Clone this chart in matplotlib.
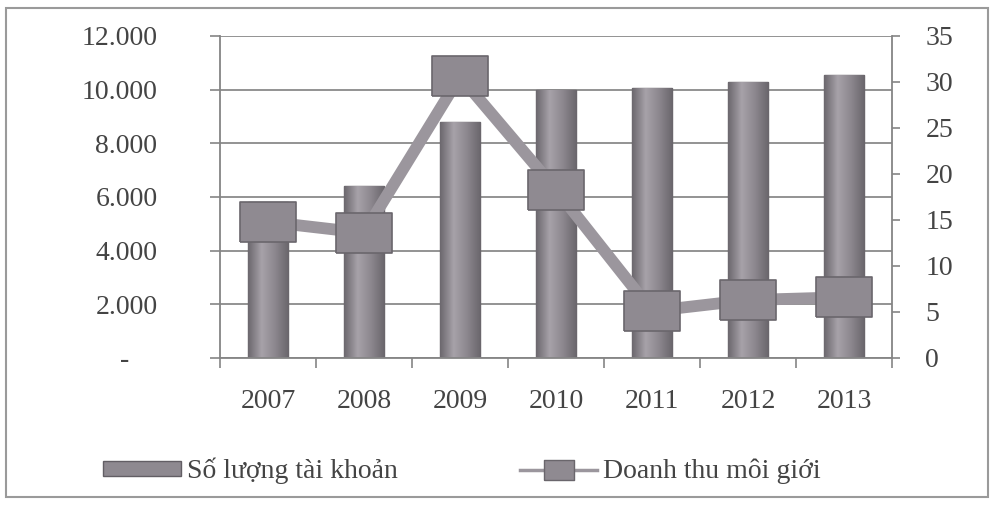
import matplotlib
matplotlib.use('Agg')
import matplotlib.pyplot as plt
import numpy as np
from matplotlib.lines import Line2D
from matplotlib.patches import Rectangle, Patch
from matplotlib.colors import LinearSegmentedColormap

# ---- data ----
years = ['2007', '2008', '2009', '2010', '2011', '2012', '2013']
so_luong_tai_khoan = [5800, 6400, 8800, 10000, 10050, 10300, 10550]
doanh_thu_moi_gioi = [14.8, 13.6, 30.6, 18.3, 5.1, 6.3, 6.6]
left_ticks = [0, 2000, 4000, 6000, 8000, 10000, 12000]
left_tick_labels = ['-    ', '2.000', '4.000', '6.000', '8.000', '10.000', '12.000']
right_ticks = [0, 5, 10, 15, 20, 25, 30, 35]
legend_labels = ['Số lượng tài khoản', 'Doanh thu môi giới']

plt.rcParams['font.family'] = ['Liberation Serif', 'DejaVu Serif']
txt_color = '#444444'
axis_color = '#858585'
bar_face = '#8e8990'
bar_edge = '#625e64'
line_color = '#9b969d'
mk_face = '#8f8a91'
mk_edge = '#6a666c'
FS = 20

fig = plt.figure(figsize=(9.93, 5.12), dpi=100)
ax = fig.add_axes([0.2215, 0.3008, 0.6768, 0.6289])

x = np.arange(len(years))
bars = ax.bar(x, so_luong_tai_khoan, width=0.42, color=bar_face,
              edgecolor=bar_edge, linewidth=1.0, zorder=2)

# cylinder-like shading on bars
cmap = LinearSegmentedColormap.from_list('cyl', ['#6c686e', '#a7a2a9', '#8c878e', '#6a666c'])
grad = np.linspace(0, 1, 64).reshape(1, -1)
for b in bars:
    x0 = b.get_x()
    w = b.get_width()
    h = b.get_height()
    im = ax.imshow(grad, extent=[x0, x0 + w, 0, h], aspect='auto', cmap=cmap,
                   zorder=2.5, interpolation='bicubic')
    im.set_clip_path(b)

ax.set_xlim(-0.5, len(years) - 0.5)
ax.set_ylim(0, 12000)
ax.set_yticks(left_ticks)
ax.set_yticklabels(left_tick_labels)
ax.set_xticks(x)
ax.set_xticklabels(years)
ax.set_xticks(np.arange(-0.5, len(years), 1.0), minor=True)

ax.yaxis.grid(True, color='#8a8a8a', linewidth=1.3, zorder=0)
ax.set_axisbelow(True)

for s in ['top', 'right']:
    ax.spines[s].set_visible(False)
for s in ['left', 'bottom']:
    ax.spines[s].set_color(axis_color)
    ax.spines[s].set_linewidth(1.3)

ax.tick_params(axis='y', direction='out', length=7, width=1.2, color=axis_color,
               pad=38, labelsize=FS, labelcolor=txt_color)
ax.tick_params(axis='x', which='major', length=0, pad=22, labelsize=FS, labelcolor=txt_color)
ax.tick_params(axis='x', which='minor', direction='out', length=7, width=1.2, color=axis_color)

ax2 = ax.twinx()
rect_marker = [(-1.0, -0.7), (1.0, -0.7), (1.0, 0.7), (-1.0, 0.7), (-1.0, -0.7)]
ax2.plot(x, doanh_thu_moi_gioi, color=line_color, linewidth=8.5, zorder=3,
         marker=rect_marker, markersize=41, markerfacecolor=mk_face,
         markeredgecolor=mk_edge, markeredgewidth=1.2)
ax2.set_ylim(0, 35)
ax2.set_yticks(right_ticks)
for s in ['top', 'left', 'bottom']:
    ax2.spines[s].set_visible(False)
ax2.spines['right'].set_color(axis_color)
ax2.spines['right'].set_linewidth(1.3)
ax2.tick_params(axis='y', direction='out', length=6, width=1.2, color=axis_color,
                pad=18, labelsize=FS, labelcolor=txt_color)

# legend
h1 = Patch(facecolor=bar_face, edgecolor=bar_edge, linewidth=1.0)
h2 = Line2D([], [], color=line_color, linewidth=2.5, marker=rect_marker,
            markersize=21, markerfacecolor=mk_face, markeredgecolor=mk_edge,
            markeredgewidth=1.0)
leg = fig.legend([h1, h2], legend_labels, loc='center',
                 bbox_to_anchor=(462 / 993, 1 - 471 / 512), ncol=2, frameon=False,
                 fontsize=FS, handlelength=2.8, handleheight=0.45,
                 handletextpad=0.2, columnspacing=4.4)
for t in leg.get_texts():
    t.set_color(txt_color)

# outer border
fig.add_artist(Rectangle((6 / 993, 1 - 497 / 512), (988 - 6) / 993, (497 - 8) / 512,
                         transform=fig.transFigure, fill=False,
                         edgecolor='#9a9a9a', linewidth=1.5))

fig.savefig('out.png', dpi=100)
